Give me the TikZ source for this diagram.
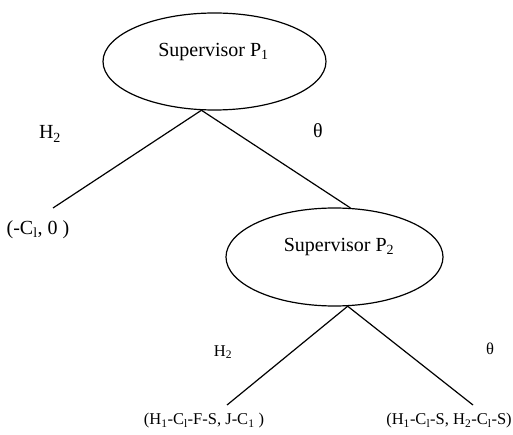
\documentclass[tikz,border=0pt]{standalone}
\usepackage{fontspec}
\setmainfont{Liberation Serif}
\usetikzlibrary{shapes.geometric}
\tikzset{
  decision/.style={draw, line width=1.2pt, ellipse, inner sep=0pt},
  bigtxt/.style={inner sep=0pt, font=\fontsize{20}{24}\selectfont},
  smalltxt/.style={inner sep=0pt, font=\fontsize{16.5}{20}\selectfont},
  branch/.style={line width=1.2pt}
}
\begin{document}
\begin{tikzpicture}[x=1pt,y=-1pt]
\useasboundingbox (0,0) rectangle (513,435);
\node[decision, minimum width=223pt, minimum height=97pt] (p1) at (214.5,61.5) {};
\node[bigtxt] (p1t) at (213.5,52) {Supervisor P\textsubscript{1}};
\node[decision, minimum width=217pt, minimum height=98pt] (p2) at (334.5,257) {};
\node[bigtxt] (p2t) at (339,247) {Supervisor P\textsubscript{2}};
\coordinate (e1) at (53,208);
\coordinate (e2) at (227,405);
\coordinate (e3) at (473,405);
\draw[branch] (p1.255) -- (e1);
\draw[branch] (p1.255) -- (p2.72);
\draw[branch] (p2.285) -- (e2);
\draw[branch] (p2.285) -- (e3);
\node[bigtxt] (h2a) at (50,134) {H\textsubscript{2}};
\node[bigtxt] (tha) at (318,131) {θ};
\node[bigtxt] (leaf1) at (38,230) {(-C\textsubscript{l}, 0 )};
\node[smalltxt] (h2b) at (223,352) {H\textsubscript{2}};
\node[smalltxt] (thb) at (490,349) {θ};
\node[smalltxt] (leaf2) at (204,421) {(H\textsubscript{1}-C\textsubscript{l}-F-S, J-C\textsubscript{1} )};
\node[smalltxt] (leaf3) at (449,421) {(H\textsubscript{1}-C\textsubscript{l}-S, H\textsubscript{2}-C\textsubscript{l}-S)};
\end{tikzpicture}
\end{document}
